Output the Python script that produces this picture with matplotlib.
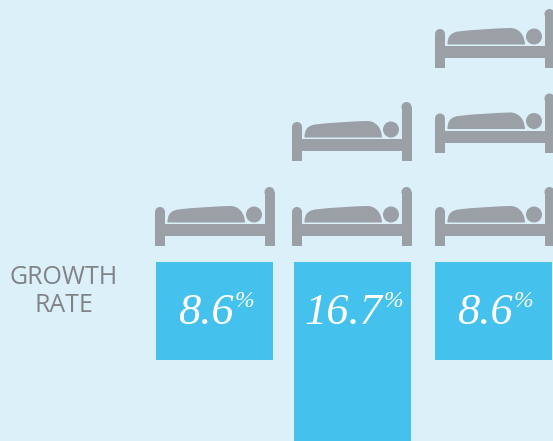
import matplotlib
matplotlib.use("Agg")
import matplotlib.pyplot as plt
from matplotlib.patches import Circle, PathPatch, Rectangle
from matplotlib.path import Path

growth = [8.6, 16.7, 8.6]
beds = [1, 2, 3]
row_label = ["GROWTH", "RATE"]

BG = "#DCF0FA"
BAR = "#45C1EE"
BED = "#9B9FA6"
TEXT = "#808285"

W, H = 553, 441
px_per_pct = 98 / 8.6
bar_top = 262
bar_w = 117
bar_left = [156, 294, 435]
bed_left = [155, 292, 435]
# floor line of the stacked beds in each column, bottom one first
bed_floor = [[246], [246, 161], [246, 152.5, 68]]


def draw_bed(ax, x, floor):
    # x is the left edge of the frame, floor the bottom of the posts
    def post(px, top):
        ax.add_patch(Rectangle((px, top + 5), 10, floor - top - 5, lw=0, fc=BED))
        ax.add_patch(Circle((px + 5, top + 5), 5, lw=0, fc=BED))

    post(x, floor - 39)
    post(x + 109.5, floor - 59)
    ax.add_patch(Rectangle((x + 10, floor - 22), 100, 12, lw=0, fc=BED))
    ax.add_patch(Circle((x + 99, floor - 31.5), 8, lw=0, fc=BED))

    # blanket outline
    verts = [(x + 12.5, floor - 23.5),
             (x + 12.5, floor - 31), (x + 15, floor - 35), (x + 23, floor - 36.5),
             (x + 40, floor - 38.5), (x + 60, floor - 39.5), (x + 74, floor - 40),
             (x + 84, floor - 40.5), (x + 89.5, floor - 33), (x + 90, floor - 23.5),
             (x + 12.5, floor - 23.5)]
    codes = [Path.MOVETO] + [Path.CURVE4] * 9 + [Path.CLOSEPOLY]
    ax.add_patch(PathPatch(Path(verts, codes), lw=0, fc=BED))


fig = plt.figure(figsize=(W / 100, H / 100), dpi=100, facecolor=BG)
ax = fig.add_axes([0, 0, 1, 1])
ax.set_xlim(0, W)
ax.set_ylim(H, 0)
ax.axis("off")

ax.bar(bar_left, [v * px_per_pct for v in growth], width=bar_w, bottom=bar_top,
       align="edge", color=BAR, linewidth=0)

for left, floors, count in zip(bed_left, bed_floor, beds):
    for floor in floors[:count]:
        draw_bed(ax, left, floor)

renderer = fig.canvas.get_renderer()
for left, v in zip(bar_left, growth):
    num = ax.text(0, 324, f"{v:.1f}", family="Liberation Serif", style="italic",
                  fontsize=32, color="white", ha="left", va="baseline")
    pct = ax.text(0, 307, "%", family="Liberation Serif", style="italic",
                  fontsize=17, color="white", ha="left", va="baseline")
    num_w = num.get_window_extent(renderer).width
    pct_w = pct.get_window_extent(renderer).width
    start = left + bar_w / 2 + 1.5 - (num_w + pct_w + 1) / 2
    num.set_x(start)
    pct.set_x(start + num_w + 1)

for y, word in zip([277, 305], row_label):
    ax.text(64, y, word, family="Open Sans", fontsize=18, color=TEXT,
            ha="center", va="center")

fig.savefig("out.png", dpi=100, facecolor=BG)
